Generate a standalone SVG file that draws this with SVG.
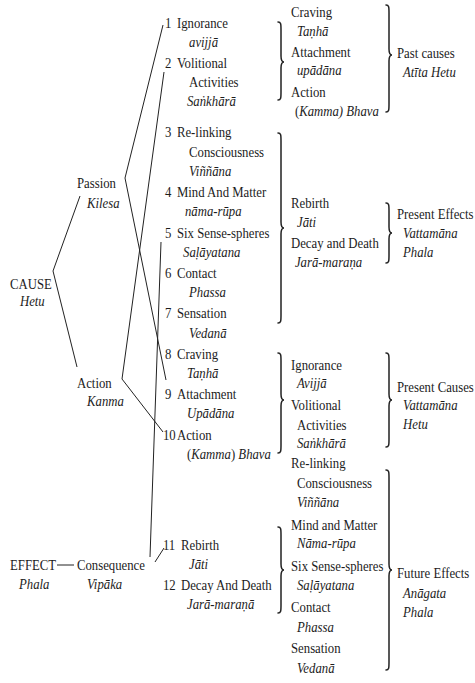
<svg xmlns="http://www.w3.org/2000/svg" width="475" height="683" viewBox="0 0 475 683">
<style>
text{font-family:"Liberation Serif","Times New Roman",serif;font-size:14.5px;fill:#1c1c1c}
.i{font-style:italic}
.r{font-style:normal}
.ln{fill:none;stroke:#222;stroke-width:1;stroke-linejoin:miter}
.br{fill:none;stroke:#222;stroke-width:1.5;stroke-linecap:round}
</style>
<rect width="475" height="683" fill="#fff"/>
<g id="connectors">
<polyline class="ln" points="80,196 53,271 77,367"/>
<polyline class="ln" points="163,25 125,178 166,380"/>
<polyline class="ln" points="164,72 122,379 163,432"/>
<line class="ln" x1="161" y1="242" x2="150" y2="557"/>
<line class="ln" x1="155" y1="562" x2="164" y2="548"/>
<line class="ln" x1="57" y1="565" x2="74" y2="565"/>
</g>
<g id="braces">
<path class="br" d="M278 22 C281 22 281 24 281 30 L281 56 C281 60 282 62 284 62 C282 62 281 64 281 68 L281 92 C281 98 281 100 278 100"/>
<path class="br" d="M386 5 C389 5 389 7 389 13 L389 49 C389 53 390 55 392 55 C390 55 389 57 389 61 L389 104 C389 110 389 112 386 112"/>
<path class="br" d="M278 133 C281 133 281 135 281 141 L281 222 C281 226 282 228 284 228 C282 228 281 230 281 234 L281 315 C281 321 281 323 278 323"/>
<path class="br" d="M386 203 C389 203 389 205 389 211 L389 227 C389 231 390 233 392 233 C390 233 389 235 389 239 L389 255 C389 261 389 263 386 263"/>
<path class="br" d="M278 353 C281 353 281 355 281 361 L281 394 C281 398 282 400 284 400 C282 400 281 402 281 406 L281 445 C281 451 281 453 278 453"/>
<path class="br" d="M386 353 C389 353 389 355 389 361 L389 394 C389 398 390 400 392 400 C390 400 389 402 389 406 L389 439 C389 445 389 447 386 447"/>
<path class="br" d="M278 527 C281 527 281 529 281 535 L281 564 C281 568 282 570 284 570 C282 570 281 572 281 576 L281 605 C281 611 281 613 278 613"/>
<path class="br" d="M386 470 C389 470 389 472 389 478 L389 564 C389 568 390 570 392 570 C390 570 389 572 389 576 L389 662 C389 668 389 670 386 670"/>
</g>
<g transform="scale(0.88 1)">
<g id="cause"><text x="11.4" y="289">CAUSE</text><text class="i" x="22.7" y="306">Hetu</text></g>
<g id="effect"><text x="11.4" y="570">EFFECT</text><text class="i" x="21.6" y="589">Phala</text></g>
<g id="passion"><text x="87.5" y="188">Passion</text><text class="i" x="98.9" y="208">Kilesa</text></g>
<g id="action"><text x="87.5" y="388">Action</text><text class="i" x="98.9" y="406">Kanma</text></g>
<g id="consequence"><text x="87.5" y="570">Consequence</text><text class="i" x="98.9" y="589">Vipāka</text></g>

<g id="n1"><text x="187.5" y="28">1</text><text x="201.1" y="28">Ignorance</text><text class="i" x="214.8" y="47">avijjā</text></g>
<g id="n2"><text x="187.5" y="68">2</text><text x="201.1" y="68">Volitional</text><text x="214.8" y="87">Activities</text><text class="i" x="212.5" y="106">Saṅkhārā</text></g>
<g id="n3"><text x="187.5" y="137">3</text><text x="201.1" y="137">Re-linking</text><text x="214.8" y="157">Consciousness</text><text class="i" x="214.8" y="176">Viññāna</text></g>
<g id="n4"><text x="187.5" y="197">4</text><text x="201.1" y="197">Mind And Matter</text><text class="i" x="210.2" y="216">nāma-rūpa</text></g>
<g id="n5"><text x="187.5" y="238">5</text><text x="201.1" y="238">Six Sense-spheres</text><text class="i" x="208.0" y="257">Saḷāyatana</text></g>
<g id="n6"><text x="187.5" y="278">6</text><text x="201.1" y="278">Contact</text><text class="i" x="214.8" y="297">Phassa</text></g>
<g id="n7"><text x="187.5" y="318">7</text><text x="201.1" y="318">Sensation</text><text class="i" x="214.8" y="338">Vedanā</text></g>
<g id="n8"><text x="187.5" y="359">8</text><text x="201.1" y="359">Craving</text><text class="i" x="212.5" y="378">Taṇhā</text></g>
<g id="n9"><text x="187.5" y="399">9</text><text x="201.1" y="399">Attachment</text><text class="i" x="212.5" y="418">Upādāna</text></g>
<g id="n10"><text x="185.2" y="440">10</text><text x="201.1" y="440">Action</text><text x="212.5" y="459"><tspan class="r">(</tspan><tspan class="i">Kamma</tspan><tspan class="r">) </tspan><tspan class="i">Bhava</tspan></text></g>
<g id="n11"><text x="185.2" y="550">11</text><text x="205.7" y="550">Rebirth</text><text class="i" x="214.8" y="569">Jāti</text></g>
<g id="n12"><text x="185.2" y="590">12</text><text x="205.7" y="590">Decay And Death</text><text class="i" x="212.5" y="609">Jarā-maraṇā</text></g>

<g id="past-group"><text x="330.7" y="17">Craving</text><text class="i" x="337.5" y="36">Taṇhā</text><text x="330.7" y="57">Attachment</text><text class="i" x="337.5" y="75">upādāna</text><text x="330.7" y="97">Action</text><text x="335.2" y="116"><tspan class="r">(</tspan><tspan class="i">Kamma) Bhava</tspan></text></g>
<g id="past-causes"><text x="451.1" y="58">Past causes</text><text class="i" x="458.0" y="77">Atīta Hetu</text></g>
<g id="present-effects-group"><text x="330.7" y="208">Rebirth</text><text class="i" x="337.5" y="227">Jāti</text><text x="330.7" y="248">Decay and Death</text><text class="i" x="335.2" y="267">Jarā-maraṇa</text></g>
<g id="present-effects"><text x="451.1" y="219">Present Effects</text><text class="i" x="458.0" y="238">Vattamāna</text><text class="i" x="458.0" y="257">Phala</text></g>
<g id="present-causes-group"><text x="330.7" y="370">Ignorance</text><text class="i" x="337.5" y="388">Avijjā</text><text x="330.7" y="410">Volitional</text><text x="337.5" y="430">Activities</text><text class="i" x="337.5" y="448">Saṅkhārā</text></g>
<g id="present-causes"><text x="451.1" y="392">Present Causes</text><text class="i" x="458.0" y="410">Vattamāna</text><text class="i" x="458.0" y="429">Hetu</text></g>
<g id="future-group"><text x="330.7" y="468">Re-linking</text><text x="337.5" y="488">Consciousness</text><text class="i" x="337.5" y="507">Viññāna</text><text x="330.7" y="530">Mind and Matter</text><text class="i" x="337.5" y="548">Nāma-rūpa</text><text x="330.7" y="571">Six Sense-spheres</text><text class="i" x="337.5" y="590">Saḷāyatana</text><text x="330.7" y="612">Contact</text><text class="i" x="337.5" y="632">Phassa</text><text x="330.7" y="653">Sensation</text><text class="i" x="337.5" y="673">Vedanā</text></g>
<g id="future-effects"><text x="451.1" y="578">Future Effects</text><text class="i" x="458.0" y="598">Anāgata</text><text class="i" x="458.0" y="617">Phala</text></g>
</g>
</svg>
